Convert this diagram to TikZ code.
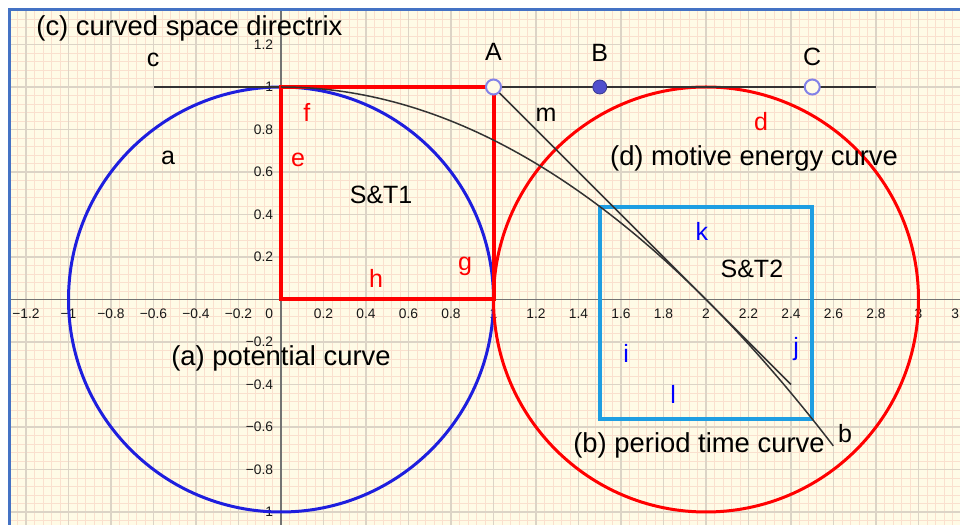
\documentclass[tikz,border=0pt]{standalone}
\usepackage{fontspec}
\setmainfont{Liberation Sans}
\usetikzlibrary{positioning}
\definecolor{ggpaper}{RGB}{255,251,230}
\definecolor{ggmajor}{RGB}{220,212,198}
\definecolor{ggminor}{RGB}{250,224,206}
\definecolor{ggframe}{RGB}{68,114,196}
\definecolor{ggblue}{RGB}{30,30,222}
\definecolor{ggsky}{RGB}{30,158,226}
\definecolor{ggdot}{RGB}{80,80,205}
\definecolor{ggring}{RGB}{130,130,232}
\tikzset{caption/.style = {font=\fontsize{13.7}{15}\selectfont, inner sep=0}}
\tikzset{lbl/.style = {font=\fontsize{12.5}{14}\selectfont, inner sep=0}}
\tikzset{ticklbl/.style = {font=\fontsize{6.9}{8}\selectfont, text=black!90, inner sep=0}}
\tikzset{thinline/.style = {black!80, line width=0.75pt}}
\tikzset{ringpt/.style = {circle, draw=ggring, fill=ggpaper, line width=1pt, inner sep=0, minimum size=7.5pt}}
\tikzset{dotpt/.style = {circle, draw=ggdot!70!black, fill=ggdot, line width=0.4pt, inner sep=0, minimum size=7pt}}

\begin{document}
\begin{tikzpicture}[x=106.25pt, y=106.25pt]
  \useasboundingbox (-1.3224,-1.0612) rectangle (3.1953,1.4094);
  \fill[white] (-1.3224,-1.0612) rectangle (3.1953,1.4094);
  \fill[ggpaper] (-1.28,-1.0612) rectangle (3.1953,1.3624);
  \draw[ggminor, line width=0.4pt, step=0.04] (-1.28,-1.0612) grid (3.1953,1.3624);
  \draw[ggmajor, line width=0.7pt, step=0.2] (-1.28,-1.0612) grid (3.1953,1.3624);
  \draw[black!55, line width=0.6pt] (-1.28,0) -- (3.1953,0);
  \draw[black!55, line width=0.6pt] (0,-1.0612) -- (0,1.3624);
  \draw[ggframe, line width=1.5pt] (-1.28,-1.0612) -- (-1.28,1.3624) -- (3.1953,1.3624);
  % axis numbers
  \foreach \v/\t in {-1.2/−1.2, -1/−1, -0.8/−0.8, -0.6/−0.6, -0.4/−0.4, -0.2/−0.2,
                     0.2/0.2, 0.4/0.4, 0.6/0.6, 0.8/0.8, 1/1, 1.2/1.2, 1.4/1.4, 1.6/1.6,
                     1.8/1.8, 2/2, 2.2/2.2, 2.4/2.4, 2.6/2.6, 2.8/2.8, 3/3, 3.2/3.2}
    \node[ticklbl] (x\t) at (\v,-0.066) {\t};
  \foreach \v/\t in {1.2/1.2, 1/1, 0.8/0.8, 0.6/0.6, 0.4/0.4, 0.2/0.2,
                     -0.2/−0.2, -0.4/−0.4, -0.6/−0.6, -0.8/−0.8, -1/−1}
    \node[ticklbl, anchor=east] (y\t) at (-0.035,\v) {\t};
  \node[ticklbl] (x0) at (-0.056,-0.066) {0};

  \draw[ggblue, line width=1.5pt] (0,0) circle (1);   % a
  \draw[red, line width=1.5pt] (2,0) circle (1);      % d
  \coordinate (cL) at (-0.6,1);
  \coordinate (cR) at (2.8,1);
  \draw[thinline] (cL) -- (cR);
  \draw[red, line width=2pt] (0,0) rectangle (1,1);
  \draw[ggsky, line width=2pt] (1.5,-0.5625) rectangle (2.5,0.4375);
  \draw[thinline] plot[domain=0:2.6, samples=80] (\x,{1-\x*\x/4});
  \coordinate (A) at (1,1);
  \coordinate (mEnd) at (2.4,-0.4);
  \draw[thinline] (A) -- (mEnd);
  \node[ringpt] (pA) at (A) {};
  \node[dotpt] (pB) at (1.5,1) {};
  \node[ringpt] (pC) at (2.5,1) {};

  \node[lbl, above=9pt of pA] (lA) {A};
  \node[lbl, above=9pt of pB] (lB) {B};
  \node[lbl, above=6pt of pC] (lC) {C};
  \node[lbl] (lc) at (-0.602,1.127) {c};
  \node[lbl] (la) at (-0.532,0.666) {a};
  \node[lbl] (lm) at (1.247,0.868) {m};
  \node[lbl] (lb) at (2.654,-0.633) {b};
  \node[lbl, red] (lf) at (0.122,0.882) {f};
  \node[lbl, red] (le) at (0.080,0.656) {e};
  \node[lbl, red] (lg) at (0.866,0.155) {g};
  \node[lbl, red] (lh) at (0.447,0.101) {h};
  \node[lbl, red] (ld) at (2.259,0.835) {d};
  \node[lbl, blue] (lk) at (1.981,0.322) {k};
  \node[lbl, blue] (li) at (1.624,-0.252) {i};
  \node[lbl, blue] (lj) at (2.424,-0.235) {j};
  \node[lbl, blue] (ll) at (1.845,-0.449) {l};
  \node[lbl] (st1) at (0.471,0.492) {S\&T1};
  \node[lbl] (st2) at (2.216,0.144) {S\&T2};
  \node[caption, anchor=west] (capc) at (-1.153,1.278) {(c) curved space directrix};
  \node[caption] (capd) at (2.226,0.666) {(d) motive energy curve};
  \node[caption] (capa) at (0,-0.275) {(a) potential curve};
  \node[caption] (capb) at (1.967,-0.689) {(b) period time curve};
\end{tikzpicture}
\end{document}
